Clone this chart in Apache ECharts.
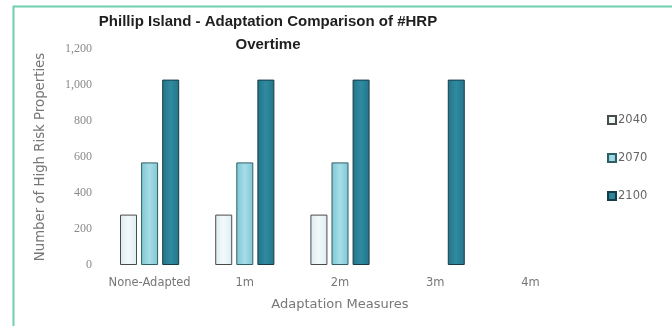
<!DOCTYPE html>
<html>
<head>
<meta charset="utf-8">
<script src="https://cdn.jsdelivr.net/npm/echarts@6/dist/echarts.min.js"></script>
<style>
  html, body { margin: 0; padding: 0; background: #ffffff; }
  #chart { width: 672px; height: 326px; }
</style>
</head>
<body>
<div id="chart"></div>
<script>
// Adaptation measures on the x axis
const categories = ['None-Adapted', '1m', '2m', '3m', '4m'];
// Number of high risk properties per planning year
const hrp2040 = [280, 280, 280, null, null];
const hrp2070 = [570, 570, 570, null, null];
const hrp2100 = [1030, 1030, 1030, 1030, null];
const yearNames = ['2040', '2070', '2100'];

function grad(a, b) {
  return new echarts.graphic.LinearGradient(0, 0, 1, 0, [
    { offset: 0, color: a }, { offset: 0.5, color: b }, { offset: 1, color: a }
  ]);
}

const chart = echarts.init(document.getElementById('chart'), null, { renderer: 'canvas' });
const option = {
  backgroundColor: '#ffffff',
  animation: false,
  title: {
    text: 'Phillip Island - Adaptation Comparison of #HRP\nOvertime',
    left: 263,
    top: 5,
    textAlign: 'center',
    textStyle: {
      fontFamily: 'Liberation Sans',
      fontWeight: 'bold',
      fontSize: 15,
      lineHeight: 23,
      color: '#1f1f1f'
    }
  },
  graphic: [{
    type: 'rect',
    shape: { x: 13.5, y: 6.5, width: 700, height: 400 },
    style: { fill: 'none', stroke: '#6fcfae', lineWidth: 2 },
    silent: true
  }],
  legend: {
    orient: 'vertical',
    left: 602,
    top: 109,
    itemWidth: 8,
    itemHeight: 8,
    itemGap: 26,
    icon: 'rect',
    textStyle: { fontFamily: 'DejaVu Sans', fontSize: 11.5, color: '#666666', padding: [0, 0, 0, -3] },
    data: yearNames
  },
  grid: { left: 102, right: 94, top: 49, bottom: 61 },
  xAxis: {
    type: 'category',
    data: categories,
    name: 'Adaptation Measures',
    nameLocation: 'middle',
    nameGap: 33,
    nameTextStyle: { fontFamily: 'DejaVu Sans', fontSize: 13, color: '#777777' },
    axisLine: { show: false },
    axisTick: { show: false },
    axisLabel: { interval: 0, fontFamily: 'DejaVu Sans', fontSize: 11.5, color: '#777777', margin: 12 }
  },
  yAxis: {
    type: 'value',
    min: 0,
    max: 1200,
    interval: 200,
    name: 'Number of High Risk Properties',
    nameLocation: 'middle',
    nameGap: 55,
    nameTextStyle: { fontFamily: 'DejaVu Sans', fontSize: 13.3, color: '#777777' },
    axisLine: { show: false },
    axisTick: { show: false },
    splitLine: { show: false },
    axisLabel: {
      fontFamily: 'Liberation Serif',
      fontSize: 12,
      color: '#8a8a8a',
      margin: 10,
      formatter: v => v.toLocaleString('en-US')
    }
  },
  series: [
    {
      name: yearNames[0], type: 'bar', data: hrp2040,
      barWidth: 17, barGap: '24%',
      itemStyle: { color: grad('#dcedf1', '#f3f9fb'), borderColor: '#4a4a4a', borderWidth: 1 }
    },
    {
      name: yearNames[1], type: 'bar', data: hrp2070,
      barWidth: 17, barGap: '24%',
      itemStyle: { color: grad('#7ec7d1', '#a6dde8'), borderColor: '#2f5f66', borderWidth: 1 }
    },
    {
      name: yearNames[2], type: 'bar', data: hrp2100,
      barWidth: 17, barGap: '24%',
      itemStyle: { color: grad('#247388', '#2f8ba0'), borderColor: '#163c46', borderWidth: 1 }
    }
  ]
};
chart.setOption(option);
</script>
</body>
</html>
